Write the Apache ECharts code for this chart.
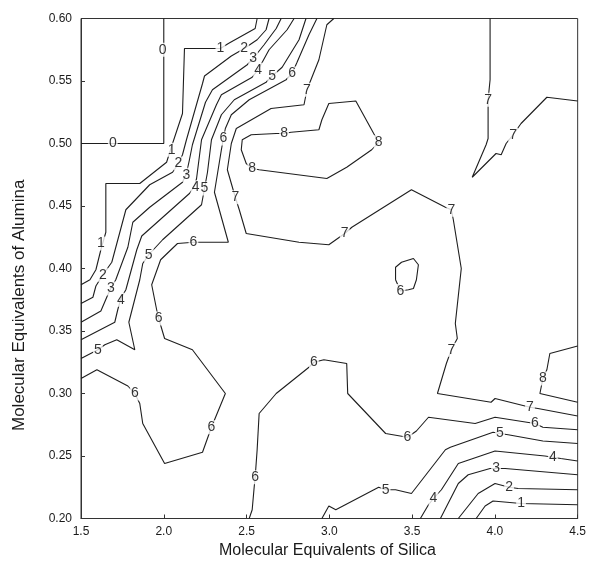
<!DOCTYPE html>
<html>
<head>
<meta charset="utf-8">
<script src="https://cdn.jsdelivr.net/npm/echarts@6/dist/echarts.min.js"></script>
<style>
html,body{margin:0;padding:0;background:#fff;}
#chart{width:589px;height:567px;}
</style>
</head>
<body>
<div id="chart"></div>
<script>
// Axis ticks
const xTicks = [1.5, 2.0, 2.5, 3.0, 3.5, 4.0, 4.5];
const yTicks = [0.20, 0.25, 0.30, 0.35, 0.40, 0.45, 0.50, 0.55, 0.60];

// Contour polylines [silica, alumina]
const level0a = [[2.0,0.600],[2.0,0.500],[1.5,0.500]];
const level1a = [[2.564,0.600],[2.552,0.592],[2.390,0.580],[2.342,0.576],[2.125,0.576],[2.113,0.524],[2.053,0.500],[2.017,0.485],[1.855,0.468],[1.650,0.468],[1.650,0.429],[1.620,0.415],[1.590,0.399],[1.554,0.391],[1.500,0.387]];
const level1b = [[3.887,0.200],[3.941,0.210],[3.989,0.214],[4.158,0.212],[4.500,0.211]];
const level2a = [[2.636,0.600],[2.618,0.591],[2.564,0.583],[2.486,0.576],[2.408,0.570],[2.246,0.554],[2.234,0.548],[2.137,0.503],[2.113,0.491],[2.089,0.484],[2.053,0.477],[1.915,0.467],[1.771,0.447],[1.686,0.405],[1.632,0.395],[1.590,0.386],[1.572,0.377],[1.500,0.372]];
const level2b = [[3.779,0.200],[3.899,0.220],[4.001,0.228],[4.086,0.225],[4.140,0.224],[4.500,0.223]];
const level3a = [[2.709,0.600],[2.679,0.592],[2.606,0.579],[2.540,0.568],[2.504,0.563],[2.294,0.543],[2.252,0.533],[2.173,0.499],[2.155,0.487],[2.137,0.476],[2.113,0.469],[1.915,0.449],[1.813,0.437],[1.783,0.417],[1.710,0.391],[1.680,0.384],[1.662,0.379],[1.620,0.366],[1.500,0.357]];
const level3b = [[3.671,0.200],[3.779,0.228],[3.839,0.235],[3.971,0.240],[4.007,0.240],[4.062,0.240],[4.500,0.235]];
const level4a = [[2.787,0.600],[2.745,0.591],[2.636,0.575],[2.570,0.559],[2.534,0.553],[2.348,0.539],[2.318,0.531],[2.228,0.503],[2.198,0.472],[2.186,0.466],[2.155,0.460],[1.867,0.426],[1.837,0.415],[1.771,0.383],[1.741,0.376],[1.722,0.367],[1.704,0.357],[1.500,0.343]];
const level4b = [[3.550,0.200],[3.599,0.211],[3.629,0.216],[3.677,0.223],[3.779,0.244],[4.001,0.254],[4.302,0.250],[4.350,0.249],[4.398,0.248],[4.500,0.246]];
const level5a = [[2.859,0.600],[2.817,0.583],[2.715,0.561],[2.655,0.554],[2.618,0.549],[2.426,0.535],[2.348,0.523],[2.288,0.503],[2.264,0.477],[2.246,0.464],[2.228,0.451],[1.993,0.423],[1.909,0.411],[1.873,0.404],[1.855,0.391],[1.789,0.357],[1.825,0.335],[1.716,0.343],[1.644,0.339],[1.602,0.335],[1.500,0.328]];
const level5b = [[2.955,0.200],[2.997,0.210],[3.039,0.207],[3.298,0.225],[3.340,0.223],[3.400,0.223],[3.496,0.220],[3.701,0.255],[3.731,0.257],[3.989,0.269],[4.031,0.268],[4.080,0.267],[4.290,0.262],[4.500,0.260]];
const level6a = [[2.925,0.600],[2.877,0.587],[2.805,0.565],[2.775,0.556],[2.739,0.551],[2.516,0.535],[2.408,0.523],[2.372,0.512],[2.360,0.504],[2.348,0.495],[2.306,0.461],[2.390,0.421],[2.228,0.421],[2.179,0.421],[2.083,0.420],[1.981,0.407],[1.927,0.387],[1.957,0.367],[1.969,0.360],[2.005,0.344],[2.173,0.335],[2.372,0.300],[2.288,0.273],[2.234,0.253],[2.005,0.244],[1.873,0.276],[1.855,0.292],[1.825,0.300],[1.783,0.306],[1.596,0.319],[1.500,0.312]];
const level6b = [[3.400,0.391],[3.400,0.401],[3.436,0.405],[3.508,0.408],[3.538,0.403],[3.526,0.391],[3.508,0.384],[3.478,0.383],[3.430,0.382],[3.400,0.391]];
const level6c = [[2.516,0.200],[2.534,0.207],[2.546,0.225],[2.552,0.233],[2.564,0.255],[2.576,0.284],[2.679,0.300],[2.877,0.321],[2.907,0.325],[2.967,0.327],[3.105,0.324],[3.111,0.300],[3.340,0.268],[3.472,0.265],[3.526,0.270],[3.599,0.281],[3.881,0.276],[4.001,0.281],[4.242,0.276],[4.290,0.273],[4.500,0.271]];
const level7a = [[3.027,0.600],[2.985,0.595],[2.937,0.567],[2.889,0.551],[2.865,0.543],[2.847,0.531],[2.648,0.528],[2.438,0.512],[2.408,0.500],[2.384,0.479],[2.432,0.457],[2.456,0.447],[2.498,0.428],[2.817,0.421],[2.997,0.419],[3.093,0.428],[3.136,0.433],[3.496,0.463],[3.701,0.449],[3.737,0.447],[3.749,0.439],[3.797,0.400],[3.761,0.356],[3.773,0.344],[3.737,0.335],[3.707,0.324],[3.653,0.300],[3.977,0.293],[4.001,0.296],[4.212,0.289],[4.260,0.288],[4.500,0.282]];
const level7b = [[3.971,0.600],[3.971,0.551],[3.959,0.535],[3.959,0.504],[3.947,0.499],[3.863,0.473],[4.007,0.492],[4.038,0.491],[4.068,0.500],[4.110,0.507],[4.158,0.516],[4.314,0.537],[4.500,0.534]];
const level8a = [[2.679,0.508],[2.727,0.508],[2.769,0.509],[2.937,0.511],[2.955,0.519],[2.997,0.532],[3.160,0.534],[3.268,0.508],[3.298,0.501],[3.256,0.495],[3.105,0.481],[2.985,0.472],[2.576,0.479],[2.534,0.480],[2.498,0.484],[2.468,0.495],[2.474,0.503],[2.528,0.507],[2.679,0.508]];
const level8b = [[4.500,0.338],[4.332,0.332],[4.314,0.319],[4.290,0.312],[4.272,0.300],[4.500,0.293]];

// Contour label anchors [silica, alumina]
const labels0 = [[1.993,0.575],[1.692,0.500]];
const labels1 = [[2.342,0.576],[2.047,0.495],[1.620,0.420],[4.158,0.212]];
const labels2 = [[2.486,0.576],[2.089,0.484],[1.632,0.395],[4.086,0.225]];
const labels3 = [[2.540,0.568],[2.137,0.475],[1.680,0.384],[4.007,0.240]];
const labels4 = [[2.570,0.559],[2.192,0.465],[1.741,0.375],[3.629,0.216],[4.350,0.249]];
const labels5 = [[2.655,0.554],[2.246,0.464],[1.909,0.411],[1.602,0.335],[3.340,0.223],[4.031,0.268]];
const labels6 = [[2.775,0.556],[2.360,0.504],[2.179,0.421],[1.969,0.360],[1.825,0.300],[2.288,0.273],[2.552,0.233],[2.907,0.325],[3.430,0.382],[3.472,0.265],[4.242,0.276]];
const labels7 = [[2.865,0.543],[2.432,0.457],[3.093,0.428],[3.737,0.447],[3.737,0.335],[4.212,0.289],[3.959,0.535],[4.110,0.507]];
const labels8 = [[2.727,0.508],[3.298,0.501],[2.534,0.480],[4.290,0.312]];

const lines = [level0a, level1a, level1b, level2a, level2b, level3a, level3b, level4a, level4b,
               level5a, level5b, level6a, level6b, level6c, level7a, level7b, level8a, level8b];
const labelSets = [labels0, labels1, labels2, labels3, labels4, labels5, labels6, labels7, labels8];

const labelData = [];
labelSets.forEach((set, lvl) => set.forEach(p => labelData.push([p[0], p[1], lvl])));

const lineColor = '#1e1e1e';
const series = lines.map(pts => ({
  type: 'line', data: pts, showSymbol: false, symbol: 'none', silent: true,
  lineStyle: { color: lineColor, width: 1.1 }, z: 2, animation: false
}));
series.push({
  type: 'scatter', data: labelData, symbolSize: 1, itemStyle: { color: 'rgba(0,0,0,0)' }, z: 10, silent: true,
  label: {
    show: true, position: 'inside', formatter: p => String(p.value[2]),
    color: '#000', fontFamily: 'Liberation Sans, Arial, sans-serif', fontSize: 14,
    backgroundColor: '#fff', padding: [0, 1, 0, 1]
  },
  animation: false
});

const chart = echarts.init(document.getElementById('chart'), null, { renderer: 'canvas' });
const axisFont = { color: '#1a1a1a', fontFamily: 'Liberation Sans, Arial, sans-serif', fontSize: 12 };
chart.setOption({
  animation: false,
  backgroundColor: '#fff',
  grid: { left: 81, right: 9, top: 18.5, bottom: 48.5, show: true, borderColor: '#333', borderWidth: 1, backgroundColor: 'transparent' },
  xAxis: {
    type: 'value', min: xTicks[0], max: xTicks[xTicks.length - 1], interval: 0.5,
    axisLine: { show: true, lineStyle: { color: '#333' } },
    axisTick: { show: true, inside: true, length: 4, lineStyle: { color: '#333' } },
    splitLine: { show: false },
    axisLabel: Object.assign({ margin: 7, formatter: v => v.toFixed(1) }, axisFont)
  },
  yAxis: {
    type: 'value', min: yTicks[0], max: yTicks[yTicks.length - 1], interval: 0.05,
    axisLine: { show: true, lineStyle: { color: '#333' } },
    axisTick: { show: true, inside: true, length: 4, lineStyle: { color: '#333' } },
    splitLine: { show: false },
    axisLabel: Object.assign({ margin: 9, formatter: v => v.toFixed(2) }, axisFont)
  },
  graphic: [
    { type: 'text', left: 219, top: 543, style: { text: 'Molecular Equivalents of Silica', fill: '#1a1a1a', font: '16px "Liberation Sans", Arial, sans-serif' } },
    { type: 'text', x: 11, y: 431, rotation: Math.PI / 2, style: { text: 'Molecular Equivalents of Alumina', fill: '#1a1a1a', font: '17px "Liberation Sans", Arial, sans-serif' } }
  ],
  series: series
});
</script>
</body>
</html>
